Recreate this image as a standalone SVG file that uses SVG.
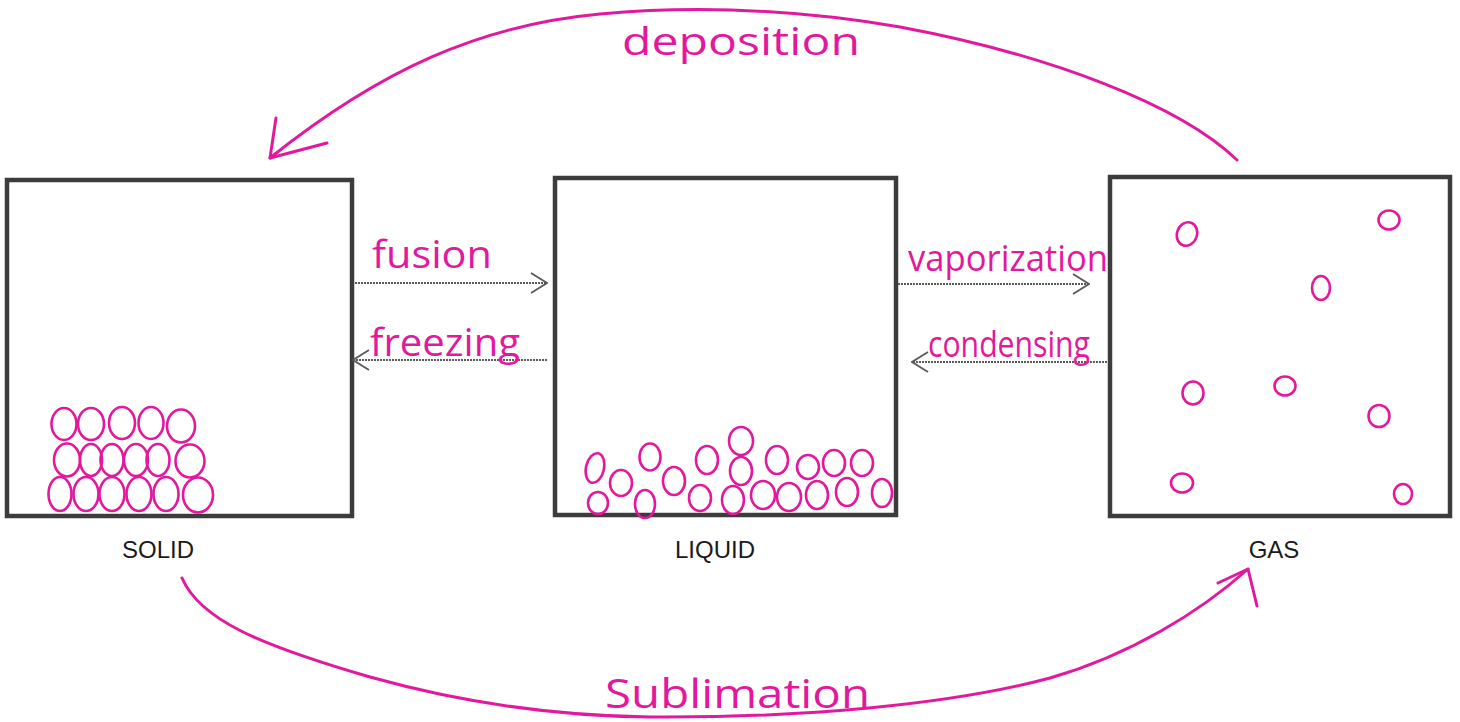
<svg xmlns="http://www.w3.org/2000/svg" width="1460" height="722" viewBox="0 0 1460 722">
  <style>
    .box { fill: none; stroke: #3c3c3c; stroke-width: 4.5; }
    .state { font-family: "Liberation Sans", Arial, sans-serif; font-size: 24px; fill: #1a1a1a; text-anchor: middle; }
    .hand { font-family: "Open Sans", "Liberation Sans", sans-serif; fill: #e2199d; }
    .p { fill: none; stroke: #e2199d; stroke-width: 2.6; }
    .flow { fill: none; stroke: #5a5a5a; stroke-width: 1.8; stroke-dasharray: 2 1; }
    .arc { fill: none; stroke: #e2199d; stroke-width: 3; stroke-linecap: round; stroke-linejoin: round; }
  </style>
  <defs>
    <marker id="chev" viewBox="0 0 18 22" refX="17" refY="11" markerWidth="18" markerHeight="22" markerUnits="userSpaceOnUse" orient="auto">
      <path d="M1,1 L17,11 L1,21" fill="none" stroke="#5a5a5a" stroke-width="1.8"/>
    </marker>
  </defs>
  <rect width="1460" height="722" fill="#ffffff"/>

  <!-- solid: tightly packed rows -->
  <g id="solid">
    <rect class="box" x="7" y="180" width="345" height="336"/>
    <ellipse class="p" cx="64" cy="424" rx="12.5" ry="16"/>
    <ellipse class="p" cx="91" cy="424" rx="13" ry="16"/>
    <ellipse class="p" cx="122" cy="423" rx="13" ry="16"/>
    <ellipse class="p" cx="151" cy="423" rx="12.5" ry="16"/>
    <ellipse class="p" cx="181" cy="426" rx="14" ry="16.5"/>
    <ellipse class="p" cx="67" cy="460" rx="13" ry="16.5"/>
    <ellipse class="p" cx="91" cy="460" rx="11" ry="16"/>
    <ellipse class="p" cx="112" cy="460" rx="11.5" ry="16"/>
    <ellipse class="p" cx="136" cy="460" rx="12" ry="16"/>
    <ellipse class="p" cx="158" cy="460" rx="11.5" ry="16"/>
    <ellipse class="p" cx="190" cy="461" rx="14.5" ry="16.5"/>
    <ellipse class="p" cx="60" cy="494" rx="11.5" ry="17"/>
    <ellipse class="p" cx="86" cy="494" rx="12.5" ry="17"/>
    <ellipse class="p" cx="112" cy="494" rx="12.5" ry="17"/>
    <ellipse class="p" cx="139" cy="494" rx="12.5" ry="17"/>
    <ellipse class="p" cx="166" cy="494" rx="12.5" ry="17"/>
    <ellipse class="p" cx="198" cy="495" rx="15" ry="17.5"/>
    <text class="state" x="158" y="558">SOLID</text>
  </g>

  <!-- liquid: loose heap at the bottom -->
  <g id="liquid">
    <rect class="box" x="555" y="178" width="341" height="337"/>
    <ellipse class="p" cx="595" cy="468" rx="9" ry="15" transform="rotate(12 595 468)"/>
    <ellipse class="p" cx="621" cy="483" rx="11" ry="13"/>
    <ellipse class="p" cx="650" cy="457" rx="10.5" ry="13.5"/>
    <ellipse class="p" cx="598" cy="503" rx="10" ry="11"/>
    <ellipse class="p" cx="645" cy="504" rx="10" ry="14"/>
    <ellipse class="p" cx="674" cy="481" rx="11" ry="14"/>
    <ellipse class="p" cx="707" cy="460" rx="11" ry="14"/>
    <ellipse class="p" cx="741" cy="441" rx="12" ry="14"/>
    <ellipse class="p" cx="741" cy="471" rx="11" ry="14"/>
    <ellipse class="p" cx="700" cy="498" rx="11" ry="13"/>
    <ellipse class="p" cx="733" cy="500" rx="11" ry="14"/>
    <ellipse class="p" cx="777" cy="460" rx="11" ry="14"/>
    <ellipse class="p" cx="763" cy="495" rx="12" ry="14"/>
    <ellipse class="p" cx="808" cy="467" rx="11" ry="12"/>
    <ellipse class="p" cx="834" cy="463" rx="11" ry="13"/>
    <ellipse class="p" cx="862" cy="463" rx="11" ry="13"/>
    <ellipse class="p" cx="789" cy="497" rx="12" ry="14"/>
    <ellipse class="p" cx="817" cy="495" rx="11" ry="14"/>
    <ellipse class="p" cx="847" cy="492" rx="11" ry="14"/>
    <ellipse class="p" cx="882" cy="493" rx="10" ry="14"/>
    <text class="state" x="715" y="558">LIQUID</text>
  </g>

  <!-- gas: scattered particles -->
  <g id="gas">
    <rect class="box" x="1110" y="177" width="340" height="339"/>
    <ellipse class="p" cx="1187" cy="234" rx="10" ry="12" transform="rotate(20 1187 234)"/>
    <ellipse class="p" cx="1389" cy="220" rx="10.5" ry="9.5"/>
    <ellipse class="p" cx="1321" cy="288" rx="9" ry="12"/>
    <ellipse class="p" cx="1193" cy="393" rx="10.5" ry="11.5"/>
    <ellipse class="p" cx="1285" cy="386" rx="10.5" ry="9.5"/>
    <ellipse class="p" cx="1379" cy="416" rx="10.5" ry="11"/>
    <ellipse class="p" cx="1182" cy="483" rx="11" ry="9.5"/>
    <ellipse class="p" cx="1403" cy="494" rx="9" ry="10"/>
    <text class="state" x="1274" y="558">GAS</text>
  </g>

  <!-- phase-change connectors -->
  <g id="connectors">
    <line class="flow" x1="355" y1="283" x2="547" y2="283" marker-end="url(#chev)"/>
    <line class="flow" x1="547" y1="360" x2="353" y2="360" marker-end="url(#chev)"/>
    <line class="flow" x1="898" y1="284" x2="1089" y2="284" marker-end="url(#chev)"/>
    <line class="flow" x1="1107" y1="362" x2="912" y2="362" marker-end="url(#chev)"/>

    <!-- deposition arc: gas to solid -->
    <path class="arc" d="M1237,160 C1180,105 1050,55 900,27 C800,10 700,5 600,14 C480,25 380,70 270,158"/>
    <path class="arc" d="M276,118 L270,158 L327,143"/>

    <!-- sublimation arc: solid to gas -->
    <path class="arc" d="M182,578 C200,620 260,645 370,677 C470,705 560,716 650,717 C800,718 950,705 1050,678 C1130,655 1200,612 1248,569"/>
    <path class="arc" d="M1218,583 L1248,569 L1257,606"/>

    <text class="hand" x="372" y="268" font-size="38" textLength="120" lengthAdjust="spacingAndGlyphs">fusion</text>
    <text class="hand" x="370" y="356" font-size="38" textLength="150" lengthAdjust="spacingAndGlyphs">freezing</text>
    <text class="hand" x="908" y="271" font-size="36" textLength="200" lengthAdjust="spacingAndGlyphs">vaporization</text>
    <text class="hand" x="928" y="357" font-size="36" textLength="162" lengthAdjust="spacingAndGlyphs">condensing</text>
    <text class="hand" x="622" y="55" font-size="38" textLength="238" lengthAdjust="spacingAndGlyphs">deposition</text>
    <text class="hand" x="605" y="708" font-size="40" textLength="265" lengthAdjust="spacingAndGlyphs">Sublimation</text>
  </g>
</svg>
